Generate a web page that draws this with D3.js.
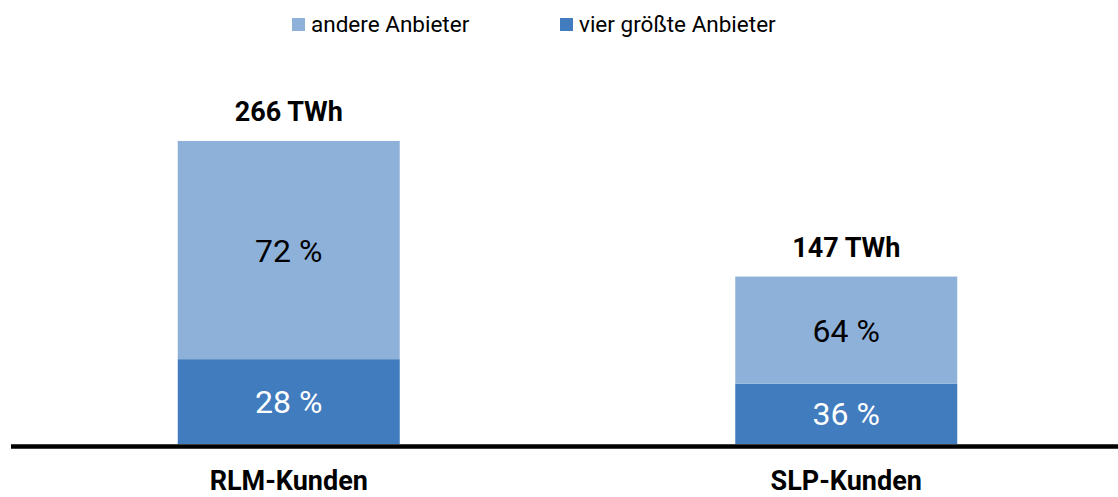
<!DOCTYPE html>
<html><head><meta charset="utf-8">
<script src="https://cdn.jsdelivr.net/npm/d3@7"></script>
<style>
html,body{margin:0;padding:0;background:#fff;}
svg{display:block;font-family:"Roboto","Liberation Sans",sans-serif;}
</style></head>
<body><svg id="chart" width="1118" height="497"></svg>
<script>
const categories = ["RLM-Kunden", "SLP-Kunden"];
const totals = [266, 147];
const sharesTop4 = [28, 36];      // vier größte Anbieter (%)
const sharesOthers = [72, 64];    // andere Anbieter (%)
const seriesNames = ["vier größte Anbieter", "andere Anbieter"];
const legendOrder = ["andere Anbieter", "vier größte Anbieter"];
const colors = {"andere Anbieter": "#8EB1D9", "vier größte Anbieter": "#417CBE"};

const svg = d3.select("#chart");
const W = 1118, H = 497;
const baseY = 444;

const data = categories.map((c, i) => ({
  cat: c,
  total: totals[i],
  "vier größte Anbieter": totals[i] * sharesTop4[i] / 100,
  "andere Anbieter": totals[i] * sharesOthers[i] / 100,
  pct: {"vier größte Anbieter": sharesTop4[i], "andere Anbieter": sharesOthers[i]}
}));

const x = d3.scaleBand().domain(categories).range([10, 1125]);
const y = d3.scaleLinear().domain([0, 266]).range([baseY, 141]);
const barW = 222;

const stack = d3.stack().keys(seriesNames)(data);

const g = svg.append("g");
stack.forEach(layer => {
  const key = layer.key;
  layer.forEach(d => {
    const cx = x(d.data.cat) + x.bandwidth() / 2;
    g.append("rect")
      .attr("x", cx - barW / 2)
      .attr("y", y(d[1]))
      .attr("width", barW)
      .attr("height", y(d[0]) - y(d[1]))
      .attr("fill", colors[key]);
    g.append("text")
      .attr("x", cx)
      .attr("y", (y(d[0]) + y(d[1])) / 2)
      .attr("dy", "0.36em")
      .attr("text-anchor", "middle")
      .attr("font-size", 32)
      .attr("fill", key === "vier größte Anbieter" ? "#fff" : "#000")
      .text(d.data.pct[key] + " %");
  });
});

// totals
data.forEach(d => {
  const cx = x(d.cat) + x.bandwidth() / 2;
  svg.append("text")
    .attr("x", cx).attr("y", y(d.total) - 20)
    .attr("text-anchor", "middle")
    .attr("font-size", 27).attr("font-weight", "bold")
    .text(d.total + " TWh");
  svg.append("text")
    .attr("x", cx).attr("y", 490)
    .attr("text-anchor", "middle")
    .attr("font-size", 27).attr("font-weight", "bold")
    .text(d.cat);
});

// axis line
svg.append("line")
  .attr("x1", 11).attr("x2", W)
  .attr("y1", y(0) + 2.5).attr("y2", y(0) + 2.5)
  .attr("stroke", "#000").attr("stroke-width", 4.5);

// legend
const legX = [292, 560];
legendOrder.forEach((k, i) => {
  const lg = svg.append("g").attr("transform", `translate(${legX[i]},0)`);
  lg.append("rect").attr("x", 0).attr("y", 18).attr("width", 13).attr("height", 13).attr("fill", colors[k]);
  lg.append("text").attr("x", 19).attr("y", 32).attr("font-size", 22.5).attr("fill", "#000").text(k);
});
</script></body></html>
